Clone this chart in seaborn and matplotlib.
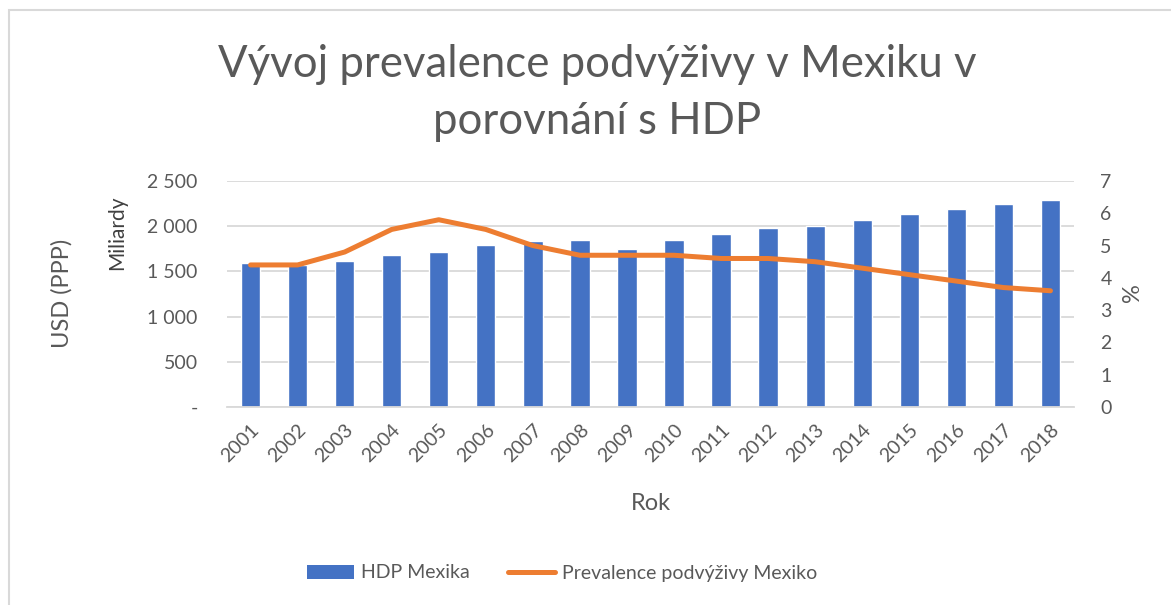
import numpy as np
import pandas as pd
import matplotlib
matplotlib.use("Agg")
import matplotlib.pyplot as plt
from matplotlib.patches import Rectangle, Patch
from matplotlib.lines import Line2D
from matplotlib.ticker import FuncFormatter, MultipleLocator
import seaborn as sns

# data
roky = [2001, 2002, 2003, 2004, 2005, 2006, 2007, 2008, 2009,
        2010, 2011, 2012, 2013, 2014, 2015, 2016, 2017, 2018]
hdp_mexika = [1596, 1570, 1611, 1678, 1711, 1792, 1836, 1851, 1751,
              1851, 1910, 1977, 2006, 2065, 2135, 2190, 2249, 2290]
prevalence = [4.4, 4.4, 4.8, 5.5, 5.8, 5.5, 5.0, 4.7, 4.7,
              4.7, 4.6, 4.6, 4.5, 4.3, 4.1, 3.9, 3.7, 3.6]

MODRA = "#4472C4"
ORANZ = "#ED7D31"
SEDA_TEXT = "#595959"
SEDA_MRIZ = "#D9D9D9"

sns.set_theme(style="white")
plt.rcParams["font.family"] = ["Lato", "DejaVu Sans"]

df = pd.DataFrame({"rok": [str(r) for r in roky], "hdp": hdp_mexika,
                   "idx": np.arange(len(roky)), "prev": prevalence})

W, H = 1171, 605
fig = plt.figure(figsize=(W / 100, H / 100), dpi=100)
ax = fig.add_axes([227 / W, 1 - 407 / H, (1074 - 227) / W, (407 - 181) / H])

# sloupce HDP
sns.barplot(data=df, x="rok", y="hdp", color=MODRA, width=0.41,
            saturation=1, ax=ax, zorder=2)
ax.set_ylim(0, 2500)
ax.set_xlim(-0.5, len(roky) - 0.5)
ax.yaxis.set_major_locator(MultipleLocator(500))
ax.yaxis.set_major_formatter(FuncFormatter(
    lambda v, p: "-" if v == 0 else f"{int(v):,}".replace(",", " ")))
ax.grid(axis="y", color=SEDA_MRIZ, lw=1.3, zorder=0)
ax.set_axisbelow(True)
for s in ["top", "right", "left"]:
    ax.spines[s].set_visible(False)
ax.spines["bottom"].set_color(SEDA_MRIZ)
ax.spines["bottom"].set_linewidth(1.3)
ax.tick_params(axis="y", length=0, pad=21, labelsize=14, labelcolor=SEDA_TEXT)
ax.tick_params(axis="x", length=0, pad=10, labelsize=14, labelcolor=SEDA_TEXT)
for lbl in ax.get_xticklabels():
    lbl.set_rotation(45)
    lbl.set_ha("right")
    lbl.set_rotation_mode("anchor")

ax.set_xlabel("Rok", fontsize=17, color=SEDA_TEXT)
ax.xaxis.set_label_coords(0.5, (407 - 503) / 226)
ax.xaxis.label.set_va("center")
ax.set_ylabel("USD (PPP)", fontsize=17, color=SEDA_TEXT)
ax.yaxis.set_label_coords((61.7 - 227) / 847, (407 - 293) / 226)
ax.yaxis.label.set_va("center")
ax.text((117 - 227) / 847, (407 - 233) / 226, "Miliardy", rotation=90,
        transform=ax.transAxes, ha="center", va="center",
        fontsize=15, color="#404040")

# prevalence na druhe ose
ax2 = ax.twinx()
sns.lineplot(data=df, x="idx", y="prev", color=ORANZ, lw=3.6, ax=ax2,
             solid_capstyle="round", zorder=3)
ax2.set_ylim(0, 7)
ax2.set_xlim(-0.5, len(roky) - 0.5)
ax2.yaxis.set_major_locator(MultipleLocator(1))
for s in ax2.spines.values():
    s.set_visible(False)
ax2.grid(False)
ax2.tick_params(axis="y", length=0, pad=19, labelsize=14, labelcolor=SEDA_TEXT)
ax2.set_ylabel("%", fontsize=17, color=SEDA_TEXT, rotation=90)
ax2.yaxis.set_label_coords((1133 - 227) / 847, (407 - 293) / 226)
ax2.yaxis.label.set_va("center")

# titulek
fig.text(597 / W, 1 - 77 / H, "Vývoj prevalence podvýživy v Mexiku v",
         ha="center", va="baseline", fontsize=31.5, color=SEDA_TEXT)
fig.text(597 / W, 1 - 134 / H, "porovnání s HDP",
         ha="center", va="baseline", fontsize=31.5, color=SEDA_TEXT)

# legenda
handles = [Patch(facecolor=MODRA, edgecolor="none"),
           Line2D([0], [0], color=ORANZ, lw=3.6, solid_capstyle="round")]
fig.legend(handles, ["HDP Mexika", "Prevalence podvýživy Mexiko"],
           loc="center", bbox_to_anchor=(562 / W, 1 - 573 / H), ncol=2,
           frameon=False, fontsize=14, labelcolor=SEDA_TEXT,
           handlelength=2.4, handleheight=0.7, handletextpad=0.35,
           columnspacing=2.0)

# ramecek grafu
fig.add_artist(Rectangle((9 / W, -0.1), 1.2, (1 - 10 / H) + 0.1,
                         transform=fig.transFigure, fill=False,
                         edgecolor=SEDA_MRIZ, lw=1.5))

fig.savefig("out.png", dpi=100)
